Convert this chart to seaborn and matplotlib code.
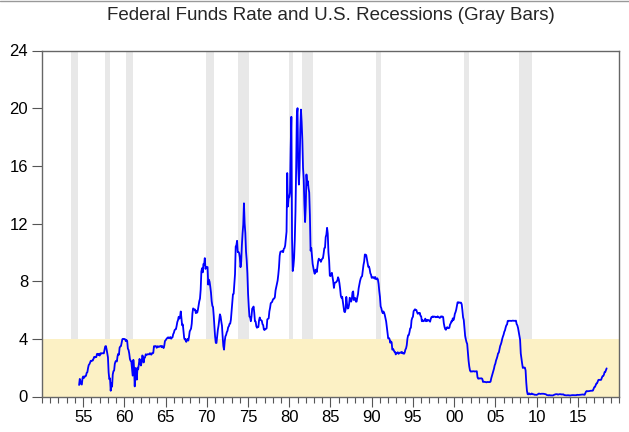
import matplotlib
matplotlib.use("Agg")
import matplotlib.pyplot as plt
from matplotlib.lines import Line2D
from matplotlib.ticker import MultipleLocator
import pandas as pd
import seaborn as sns

# monthly effective fed funds rate, starting July 1954
start_month = "1954-07"
fed_funds = [
    0.80, 1.22, 1.06, 0.85, 0.83, 1.28,                                # 1954 (Jul-Dec)
    1.39, 1.29, 1.35, 1.43, 1.43, 1.64, 1.68, 1.96, 2.18, 2.24, 2.35, 2.48,   # 1955
    2.45, 2.50, 2.50, 2.62, 2.75, 2.71, 2.75, 2.73, 2.95, 2.96, 2.88, 2.94,   # 1956
    2.84, 3.00, 2.96, 3.00, 3.00, 3.00, 2.99, 3.24, 3.47, 3.50, 3.28, 2.98,   # 1957
    2.72, 1.67, 1.20, 1.26, 0.40, 0.93, 0.68, 1.53, 1.76, 1.80, 2.27, 2.42,   # 1958
    2.48, 2.43, 2.80, 2.96, 2.90, 3.39, 3.47, 3.50, 3.76, 3.98, 4.00, 3.99,   # 1959
    3.99, 3.97, 3.84, 3.92, 3.85, 3.32, 3.23, 2.98, 2.60, 2.47, 2.44, 1.98,   # 1960
    1.45, 2.54, 2.02, 0.70, 1.98, 1.73, 1.17, 2.00, 1.88, 2.26, 2.61, 2.33,   # 1961
    2.15, 2.37, 2.85, 2.78, 2.36, 2.68, 2.71, 2.93, 2.90, 2.90, 2.94, 2.93,   # 1962
    2.92, 3.00, 2.98, 2.90, 3.00, 2.99, 3.02, 3.49, 3.48, 3.50, 3.48, 3.38,   # 1963
    3.48, 3.48, 3.43, 3.47, 3.50, 3.50, 3.42, 3.50, 3.45, 3.36, 3.52, 3.85,   # 1964
    3.90, 3.98, 4.04, 4.09, 4.10, 4.04, 4.09, 4.12, 4.01, 4.08, 4.10, 4.32,   # 1965
    4.42, 4.60, 4.65, 4.67, 4.90, 5.17, 5.30, 5.53, 5.40, 5.53, 5.90, 5.40,   # 1966
    4.94, 5.00, 4.53, 4.05, 3.94, 3.98, 3.79, 3.90, 3.99, 3.88, 4.13, 4.51,   # 1967
    4.61, 4.71, 5.05, 5.76, 6.11, 6.07, 6.02, 6.03, 5.78, 5.91, 5.82, 6.02,   # 1968
    6.30, 6.61, 6.79, 7.41, 8.67, 8.90, 8.61, 9.19, 9.15, 9.60, 8.85, 8.97,   # 1969
    8.98, 8.98, 7.76, 8.10, 7.95, 7.61, 7.21, 6.61, 6.29, 6.20, 5.60, 4.90,   # 1970
    4.14, 3.72, 3.71, 4.16, 4.63, 4.91, 5.31, 5.70, 5.55, 5.20, 4.91, 4.14,   # 1971
    3.50, 3.25, 3.83, 4.17, 4.27, 4.46, 4.55, 4.80, 4.87, 5.04, 5.06, 5.33,   # 1972
    5.94, 6.58, 7.09, 7.12, 7.84, 8.49, 10.40, 10.50, 10.80, 10.01, 10.03, 9.95,   # 1973
    9.65, 8.97, 9.35, 10.51, 11.31, 11.93, 13.40, 12.01, 11.34, 10.06, 9.45, 8.53,  # 1974
    7.13, 6.24, 5.54, 5.49, 5.22, 5.55, 6.10, 6.14, 6.24, 5.82, 5.22, 5.20,   # 1975
    4.87, 4.77, 4.84, 4.82, 5.29, 5.48, 5.31, 5.29, 5.25, 5.02, 4.95, 4.65,   # 1976
    4.61, 4.68, 4.69, 4.73, 5.35, 5.39, 5.42, 5.90, 6.14, 6.47, 6.51, 6.56,   # 1977
    6.70, 6.78, 6.79, 6.89, 7.36, 7.60, 7.81, 8.04, 8.45, 8.96, 9.76, 10.03,  # 1978
    10.07, 10.06, 10.09, 10.01, 10.24, 10.29, 10.47, 10.94, 11.43, 15.50, 13.18, 13.78,  # 1979
    13.82, 14.13, 17.19, 19.40, 10.98, 8.70, 9.03, 9.61, 10.87, 12.81, 15.85, 19.50,    # 1980
    20.00, 15.93, 14.70, 15.72, 18.52, 19.90, 19.04, 17.82, 15.87, 15.08, 13.31, 12.10,  # 1981
    13.22, 15.40, 14.68, 14.94, 14.45, 14.15, 12.59, 10.12, 10.31, 9.71, 9.20, 8.95,    # 1982
    8.68, 8.51, 8.77, 8.80, 8.63, 8.98, 9.37, 9.56, 9.45, 9.48, 9.34, 9.47,   # 1983
    9.56, 9.59, 9.91, 10.29, 10.32, 11.06, 11.23, 11.70, 11.30, 9.99, 9.43, 8.38,  # 1984
    8.35, 8.50, 8.58, 8.27, 7.97, 7.53, 7.88, 7.90, 7.92, 7.99, 8.05, 8.27,   # 1985
    8.14, 7.86, 7.48, 6.99, 6.85, 6.92, 6.56, 6.17, 5.89, 5.85, 6.04, 6.91,   # 1986
    6.43, 6.10, 6.13, 6.37, 6.85, 6.73, 6.58, 6.73, 7.22, 7.29, 6.69, 6.77,   # 1987
    6.83, 6.58, 6.58, 6.87, 7.09, 7.51, 7.75, 8.01, 8.19, 8.30, 8.35, 8.76,   # 1988
    9.12, 9.36, 9.85, 9.84, 9.81, 9.53, 9.24, 8.99, 9.02, 8.84, 8.55, 8.45,   # 1989
    8.23, 8.24, 8.28, 8.26, 8.18, 8.29, 8.15, 8.13, 8.20, 8.11, 7.81, 7.31,   # 1990
    6.91, 6.25, 6.12, 5.91, 5.78, 5.90, 5.82, 5.66, 5.45, 5.21, 4.81, 4.43,   # 1991
    4.03, 4.06, 3.98, 3.73, 3.82, 3.76, 3.25, 3.30, 3.22, 3.10, 3.09, 2.92,   # 1992
    3.02, 3.03, 3.07, 2.96, 3.00, 3.04, 3.06, 3.03, 3.09, 2.99, 3.02, 2.96,   # 1993
    3.05, 3.25, 3.34, 3.56, 4.01, 4.25, 4.26, 4.47, 4.73, 4.76, 5.29, 5.45,   # 1994
    5.53, 5.92, 5.98, 6.05, 6.01, 6.00, 5.85, 5.74, 5.80, 5.76, 5.80, 5.60,   # 1995
    5.56, 5.22, 5.31, 5.22, 5.24, 5.27, 5.40, 5.22, 5.30, 5.24, 5.31, 5.29,   # 1996
    5.25, 5.19, 5.39, 5.51, 5.50, 5.56, 5.52, 5.54, 5.54, 5.50, 5.52, 5.50,   # 1997
    5.56, 5.51, 5.49, 5.45, 5.49, 5.56, 5.54, 5.55, 5.51, 5.07, 4.83, 4.68,   # 1998
    4.63, 4.76, 4.81, 4.74, 4.74, 4.76, 4.99, 5.07, 5.22, 5.20, 5.42, 5.30,   # 1999
    5.45, 5.73, 5.85, 6.02, 6.27, 6.53, 6.54, 6.50, 6.52, 6.51, 6.51, 6.40,   # 2000
    5.98, 5.49, 5.31, 4.80, 4.21, 3.97, 3.77, 3.65, 3.07, 2.49, 2.09, 1.82,   # 2001
    1.73, 1.74, 1.73, 1.75, 1.75, 1.75, 1.73, 1.74, 1.75, 1.75, 1.34, 1.24,   # 2002
    1.24, 1.26, 1.25, 1.26, 1.26, 1.22, 1.01, 1.03, 1.01, 1.01, 1.00, 0.98,   # 2003
    1.00, 1.01, 1.00, 1.00, 1.00, 1.03, 1.26, 1.43, 1.61, 1.76, 1.93, 2.16,   # 2004
    2.28, 2.50, 2.63, 2.79, 3.00, 3.04, 3.26, 3.50, 3.62, 3.78, 4.00, 4.16,   # 2005
    4.29, 4.49, 4.59, 4.79, 4.94, 4.99, 5.24, 5.25, 5.25, 5.25, 5.25, 5.24,   # 2006
    5.25, 5.26, 5.26, 5.25, 5.25, 5.25, 5.26, 5.02, 4.94, 4.76, 4.49, 4.24,   # 2007
    3.94, 2.98, 2.61, 2.28, 1.98, 2.00, 2.01, 2.00, 1.81, 0.97, 0.39, 0.16,   # 2008
    0.15, 0.22, 0.18, 0.15, 0.18, 0.21, 0.16, 0.16, 0.15, 0.12, 0.12, 0.12,   # 2009
    0.11, 0.13, 0.16, 0.20, 0.20, 0.18, 0.18, 0.19, 0.19, 0.19, 0.19, 0.18,   # 2010
    0.17, 0.16, 0.14, 0.10, 0.09, 0.09, 0.07, 0.10, 0.08, 0.07, 0.08, 0.07,   # 2011
    0.08, 0.10, 0.13, 0.14, 0.16, 0.16, 0.16, 0.13, 0.14, 0.16, 0.16, 0.16,   # 2012
    0.14, 0.15, 0.14, 0.15, 0.11, 0.09, 0.09, 0.08, 0.08, 0.09, 0.08, 0.09,   # 2013
    0.07, 0.07, 0.08, 0.09, 0.09, 0.10, 0.09, 0.09, 0.09, 0.09, 0.09, 0.12,   # 2014
    0.11, 0.11, 0.11, 0.12, 0.12, 0.13, 0.13, 0.14, 0.14, 0.12, 0.12, 0.24,   # 2015
    0.34, 0.38, 0.36, 0.37, 0.37, 0.38, 0.39, 0.40, 0.40, 0.40, 0.41, 0.54,   # 2016
    0.65, 0.66, 0.79, 0.90, 0.91, 1.04, 1.15, 1.16, 1.15, 1.15, 1.16, 1.30,   # 2017
    1.41, 1.42, 1.51, 1.69, 1.70, 1.82, 1.95,                                 # 2018 (Jan-Jul)
]

# NBER recessions (peak month, trough month)
rec_start = ["1953-07", "1957-08", "1960-04", "1969-12", "1973-11",
             "1980-01", "1981-07", "1990-07", "2001-03", "2007-12"]
rec_end = ["1954-05", "1958-04", "1961-02", "1970-11", "1975-03",
           "1980-07", "1982-11", "1991-03", "2001-11", "2009-06"]

band_top = 4
y_ticks = [0, 4, 8, 12, 16, 20, 24]
x_major = list(range(1955, 2020, 5))


def dec_year(d):
    d = pd.Timestamp(d)
    return d.year + (d.month - 1) / 12


dates = pd.date_range(start_month, periods=len(fed_funds), freq="MS")
df = pd.DataFrame({"year": dates.year + (dates.month - 1) / 12, "rate": fed_funds})

sns.set_style("ticks")
plt.rcParams["font.family"] = ["Liberation Sans", "DejaVu Sans"]

fig, ax = plt.subplots(figsize=(6.29, 4.32), dpi=100)
fig.subplots_adjust(left=42 / 629, right=619 / 629, top=1 - 50.5 / 432, bottom=1 - 396.5 / 432)

for s, e in zip(rec_start, rec_end):
    ax.axvspan(dec_year(s), dec_year(e), color="#e8e8e8", lw=0, zorder=0)
ax.axhspan(0, band_top, color="#fcf1c5", lw=0, zorder=1)

sns.lineplot(data=df, x="year", y="rate", color="#0000ff", lw=1.3, ax=ax, zorder=3)

ax.set_xlim(1950, 2020)
ax.set_ylim(0, 24)
ax.set_yticks(y_ticks)
ax.set_xticks(x_major)
ax.set_xticklabels([f"{y % 100:02d}" for y in x_major])
ax.xaxis.set_minor_locator(MultipleLocator(1))
ax.set_xlabel("")
ax.set_ylabel("")

ax.tick_params(axis="both", which="major", length=7, width=0.8, color="#555555",
               labelsize=12, pad=3, labelcolor="black")
ax.tick_params(axis="x", which="minor", length=4, width=0.8, color="#555555")
for sp in ax.spines.values():
    sp.set_visible(True)
    sp.set_color("#666666")
    sp.set_linewidth(1.0)

fig.text(0.5 * (42 + 619) / 629, 1 - 15 / 432, "Federal Funds Rate and U.S. Recessions (Gray Bars)",
         ha="center", va="center", fontsize=13.5)
fig.add_artist(Line2D([0, 1], [1 - 1 / 432, 1 - 1 / 432], color="#999999", lw=1.0))

fig.savefig("out.png", dpi=100)
